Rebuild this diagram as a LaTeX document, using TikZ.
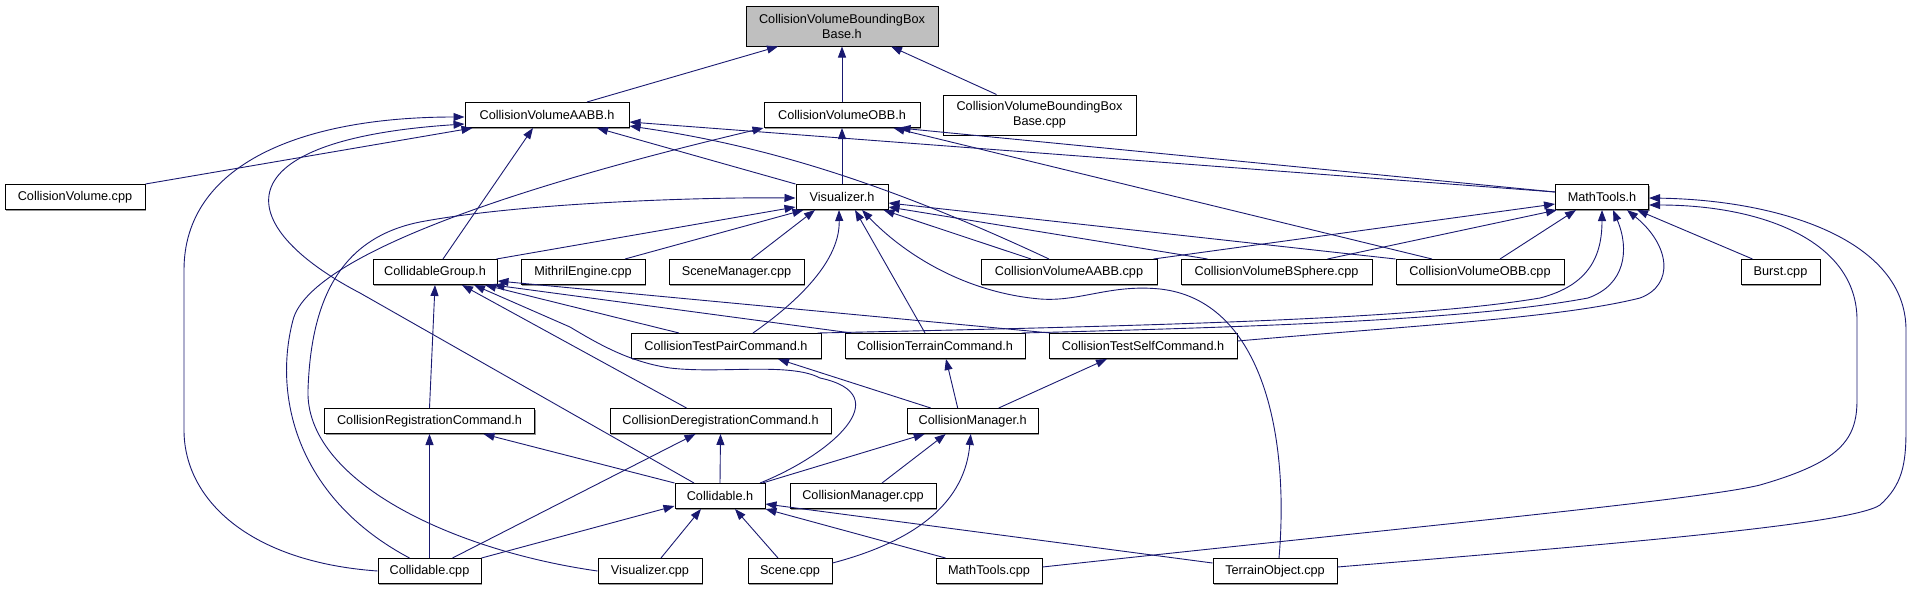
\documentclass[tikz,border=0pt]{standalone}
\usepackage{fontspec}
\setmainfont{Liberation Sans}
\usetikzlibrary{calc,arrows.meta,shadows}

\definecolor{edgeblue}{HTML}{191970}
\definecolor{topgray}{HTML}{BFBFBF}

\tikzset{
    file/.style={draw=black, line width=1pt, fill=white, inner sep=0pt,
        minimum height=25, align=center,
        font=\fontsize{12.7}{15}\selectfont,
        drop shadow={shadow xshift=1.2pt, shadow yshift=-1.2pt, fill=black!70, opacity=0.6}},
    inc/.style={draw=edgeblue, line width=0.9pt,
        -{Triangle[length=11pt, width=8pt, fill=edgeblue]}}
}

\begin{document}
\begin{tikzpicture}[x=1pt, y=-1pt]

    % 画像の範囲
    \useasboundingbox (0,0) rectangle (1914,589);

    % 各段の高さ
    \pgfmathsetmacro{\yb}{115}
    \pgfmathsetmacro{\yc}{197}
    \pgfmathsetmacro{\yd}{272}
    \pgfmathsetmacro{\ye}{346}
    \pgfmathsetmacro{\yf}{421}
    \pgfmathsetmacro{\yg}{496}
    \pgfmathsetmacro{\yh}{571}

    % 一番上のヘッダ
    \node[file, fill=topgray, minimum width=192, minimum height=40] (bbh) at (842,26)
        {CollisionVolumeBoundingBox\\Base.h};

    % 2段目
    \node[file, minimum width=164] (aabbh) at (547,\yb) {CollisionVolumeAABB.h};
    \node[file, minimum width=156] (obbh) at (842,\yb) {CollisionVolumeOBB.h};
    \node[file, minimum width=193, minimum height=40] (bbcpp) at (1039.5,\yb)
        {CollisionVolumeBoundingBox\\Base.cpp};

    % 3段目
    \foreach \n/\x/\w/\t in {cvcpp/75/140/CollisionVolume.cpp,
        vish/842/92/Visualizer.h, mathh/1602/93/MathTools.h} {
        \node[file, minimum width=\w] (\n) at (\x,\yc) {\t};
    }

    % 4段目
    \foreach \n/\x/\w/\t in {groupg/435/124/CollidableGroup.h,
        mithril/583/124/MithrilEngine.cpp, scenemgr/736.5/135/SceneManager.cpp,
        aabbcpp/1069/176/CollisionVolumeAABB.cpp,
        bspherecpp/1276.5/191/CollisionVolumeBSphere.cpp,
        obbcpp/1480/168/CollisionVolumeOBB.cpp, burst/1780.5/79/Burst.cpp} {
        \node[file, minimum width=\w] (\n) at (\x,\yd) {\t};
    }

    % 5段目
    \foreach \n/\x/\w/\t in {pairh/726/190/CollisionTestPairCommand.h,
        terrainh/935/180/CollisionTerrainCommand.h,
        selfh/1143/188/CollisionTestSelfCommand.h} {
        \node[file, minimum width=\w] (\n) at (\x,\ye) {\t};
    }

    % 6段目
    \foreach \n/\x/\w/\t in {regh/429.5/210/CollisionRegistrationCommand.h,
        deregh/720.5/221/CollisionDeregistrationCommand.h,
        mgrh/972.7/131/CollisionManager.h} {
        \node[file, minimum width=\w] (\n) at (\x,\yf) {\t};
    }

    % 7段目
    \node[file, minimum width=90] (collh) at (720,\yg) {Collidable.h};
    \node[file, minimum width=146] (mgrcpp) at (863,\yg) {CollisionManager.cpp};

    % 8段目
    \foreach \n/\x/\w/\t in {collcpp/429.5/103/Collidable.cpp,
        viscpp/650/104/Visualizer.cpp, scenecpp/790/84/Scene.cpp,
        mathcpp/989/106/MathTools.cpp, terraincpp/1275/124/TerrainObject.cpp} {
        \node[file, minimum width=\w] (\n) at (\x,\yh) {\t};
    }

    % BoundingBoxBase.h へ
    \draw[inc] ($(aabbh.north)+(40,0)$) -- ($(bbh.south)+(-64,0)$);
    \draw[inc] (obbh.north) -- (bbh.south);
    \draw[inc] ($(bbcpp.north)+(-43,0)$) -- ($(bbh.south)+(49,0)$);

    % AABB.h へ
    \draw[inc] (cvcpp.north east) -- ($(aabbh.south west)+(8,0)$);
    \draw[inc] (collcpp.west) .. controls (250,562) and (184,500) .. (184,430)
        -- (184,270) .. controls (184,165) and (300,117) .. ($(aabbh.west)+(0,2)$);
    \draw[inc] ($(collh.north)+(-26,0)$) -- (360,293)
        .. controls (230,225) and (220,140) .. ($(aabbh.west)+(0,9)$);
    \draw[inc] ($(groupg.north)+(8,0)$) -- ($(aabbh.south)+(-14,0)$);
    \draw[inc] (vish.north west) -- ($(aabbh.south)+(50,0)$);
    \draw[inc] ($(mathh.west)+(0,-5)$) -- ($(aabbh.east)+(0,7)$);
    \draw[inc] ($(aabbcpp.north)+(-20,0)$) .. controls (880,180) and (760,145)
        .. ($(aabbh.east)+(0,11)$);

    % OBB.h へ
    \draw[inc] (vish.north) -- (obbh.south);
    \draw[inc] ($(collcpp.north)+(-20,0)$) .. controls (300,500) and (272,400) .. (293,320)
        .. controls (308,262) and (480,195) .. (obbh.south west);
    \draw[inc] ($(mathh.west)+(0,-5)$) -- ($(obbh.south east)+(-21,0)$);
    \draw[inc] ($(obbcpp.north)+(-48,0)$) -- ($(obbh.south east)+(-27,0)$);

    % Visualizer.h へ
    \draw[inc] (viscpp.west) .. controls (450,550) and (305,480) .. (308,390)
        .. controls (311,300) and (340,238) .. (420,222)
        .. controls (520,203) and (700,197) .. ($(vish.west)+(0,1)$);
    \draw[inc] ($(groupg.north east)+(-1,0)$) -- ($(vish.south west)+(0,-3)$);
    \draw[inc] ($(mithril.north)+(42,0)$) -- ($(vish.south west)+(8,0)$);
    \draw[inc] ($(scenemgr.north)+(15,0)$) -- ($(vish.south)+(-27,0)$);
    \draw[inc] ($(pairh.north)+(27,0)$) .. controls (800,300) and (840,260)
        .. ($(vish.south)+(-3,0)$);
    \draw[inc] ($(terrainh.north)+(-10,0)$) -- ($(vish.south)+(13,0)$);
    \draw[inc] ($(terraincpp.north)+(4,0)$) .. controls (1290,430) and (1260,300) .. (1160,289)
        .. controls (1110,284) and (1080,302) .. (1040,299)
        .. controls (960,292) and (900,250) .. ($(vish.south)+(20,0)$);
    \draw[inc] ($(aabbcpp.north)+(-38,0)$) -- ($(vish.south east)+(-5,0)$);
    \draw[inc] ($(bspherecpp.north)+(-69,0)$) -- ($(vish.east)+(0,10)$);
    \draw[inc] (obbcpp.north west) -- ($(vish.east)+(0,6)$);

    % MathTools.h へ
    \draw[inc] ($(aabbcpp.north east)+(-4,0)$) -- ($(mathh.west)+(0,7)$);
    \draw[inc] ($(bspherecpp.north)+(51,0)$) -- ($(mathh.south west)+(2,0)$);
    \draw[inc] ($(obbcpp.north)+(20,0)$) -- ($(mathh.south)+(-26,0)$);
    \draw[inc] ($(burst.north)+(-28,0)$) -- ($(mathh.south)+(35,0)$);
    \draw[inc] ($(pairh.north east)+(-4,0)$) .. controls (1200,325) and (1420,318) .. (1540,298)
        .. controls (1590,285) and (1602,255) .. (mathh.south);
    \draw[inc] ($(terrainh.north east)+(-4,0)$) .. controls (1300,326) and (1480,318) .. (1588,298)
        .. controls (1625,285) and (1630,250) .. ($(mathh.south)+(11,0)$);
    \draw[inc] ($(selfh.east)+(0,-5)$) .. controls (1420,325) and (1560,318) .. (1640,298)
        .. controls (1675,285) and (1670,245) .. ($(mathh.south)+(25,0)$);
    \draw[inc] ($(mathcpp.east)+(0,-4)$) .. controls (1400,528) and (1700,500) .. (1760,485)
        .. controls (1840,462) and (1857,440) .. (1857,400) -- (1857,320)
        .. controls (1857,240) and (1760,205) .. ($(mathh.east)+(0,8)$);
    \draw[inc] ($(terraincpp.east)+(0,-4)$) .. controls (1600,545) and (1850,525) .. (1880,505)
        .. controls (1902,485) and (1906,465) .. (1906,430) -- (1906,330)
        .. controls (1906,240) and (1780,200) .. ($(mathh.east)+(0,1)$);

    % CollidableGroup.h へ
    \draw[inc] (regh.north) -- (groupg.south);
    \draw[inc] ($(deregh.north)+(-34,0)$) -- ($(groupg.south)+(27,0)$);
    \draw[inc] ($(collh.north)+(40,0)$) .. controls (830,455) and (900,395) .. (820,378)
        .. controls (790,362) and (720,374) .. (670,368)
        .. controls (630,362) and (600,345) .. (570,327) -- ($(groupg.south)+(39,0)$);
    \draw[inc] ($(pairh.north)+(-47,0)$) -- ($(groupg.south)+(50,0)$);
    \draw[inc] ($(terrainh.north west)+(7,0)$) -- ($(groupg.south east)+(-4,0)$);
    \draw[inc] ($(selfh.north west)+(2,0)$) -- ($(groupg.east)+(0,9)$);

    % コマンド類へ
    \draw[inc] ($(mgrh.north)+(-42,0)$) -- ($(pairh.south)+(52,0)$);
    \draw[inc] ($(mgrh.north)+(-15,0)$) -- ($(terrainh.south)+(11,0)$);
    \draw[inc] ($(mgrh.north)+(26,0)$) -- ($(selfh.south)+(-36,0)$);
    \draw[inc] (collcpp.north) -- (regh.south);
    \draw[inc] (collh.north west) -- ($(regh.south)+(54,0)$);
    \draw[inc] ($(collcpp.north)+(23,0)$) -- ($(deregh.south)+(-25,0)$);
    \draw[inc] (collh.north) -- (deregh.south);

    % CollisionManager.h へ
    \draw[inc] ($(collh.north east)+(-3,0)$) -- ($(mgrh.south)+(-48,0)$);
    \draw[inc] ($(mgrcpp.north)+(19,0)$) -- ($(mgrh.south)+(-27,0)$);
    \draw[inc] ($(scenecpp.east)+(0,-8)$) .. controls (920,540) and (965,500)
        .. ($(mgrh.south)+(-2,0)$);

    % Collidable.h へ
    \draw[inc] (collcpp.north east) -- ($(collh.south west)+(0,-3)$);
    \draw[inc] ($(viscpp.north)+(11,0)$) -- ($(collh.south)+(-19,0)$);
    \draw[inc] ($(scenecpp.north)+(-12,0)$) -- ($(collh.south)+(15,0)$);
    \draw[inc] ($(mathcpp.north west)+(10,0)$) -- (collh.south east);
    \draw[inc] ($(terraincpp.west)+(0,-8)$) -- ($(collh.east)+(0,8)$);
    %
\end{tikzpicture}
\end{document}
